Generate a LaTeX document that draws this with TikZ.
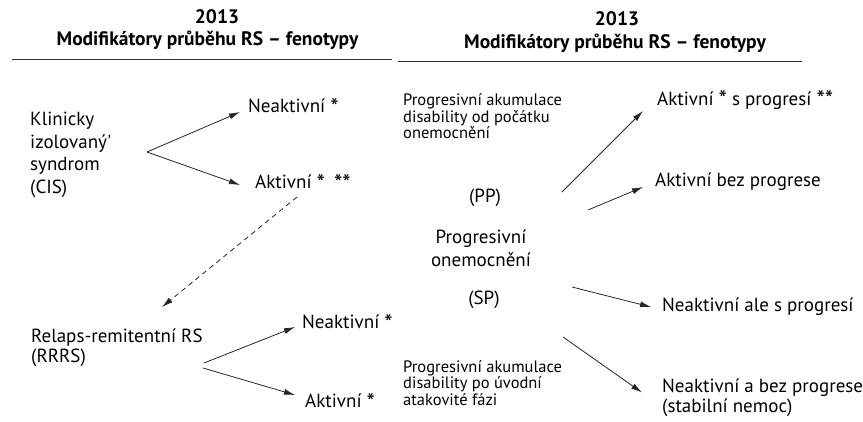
\documentclass[tikz,border=0pt]{standalone}
\usepackage{graphicx}
\usepackage{fontspec}
\setmainfont{PT Sans}
\usetikzlibrary{arrows.meta}
\newcommand\stx{\raisebox{-2.5pt}{\scalebox{1.25}{*}}}
\begin{document}
\begin{tikzpicture}[x=1pt,y=-1pt,
  lbl/.style={font=\fontsize{19}{20}\selectfont, inner sep=0pt, anchor=west, align=left},
  small/.style={font=\fontsize{16.5}{16.5}\selectfont, inner sep=0pt, anchor=west, align=left},
  ttl/.style={font=\bfseries\fontsize{19.5}{22}\selectfont, inner sep=0pt, anchor=center},
  arr/.style={-{Latex[length=11pt,width=6pt]}, line width=0.8pt, draw=black!85},
  rulestyle/.style={line width=0.9pt, draw=black!80}]
\useasboundingbox (0,0) rectangle (863,421);

% titles
\node[ttl] (y1) at (217,17) {2013};
\node[ttl] (t1) at (207.5,40.5) {Modifikátory průběhu RS – fenotypy};
\node[ttl] (y2) at (617,19) {2013};
\node[ttl] (t2) at (615,43) {Modifikátory průběhu RS – fenotypy};
\coordinate (r1a) at (12,59);
\coordinate (r1b) at (392,59);
\coordinate (r2a) at (398,61);
\coordinate (r2b) at (802,61);
\draw[rulestyle] (r1a) -- (r1b);
\draw[rulestyle] (r2a) -- (r2b);

% left block
\node[lbl, font=\fontsize{19}{22.5}\selectfont] (cis) at (30,155) {Klinicky\\izolovaný\textquotesingle\\syndrom\\(CIS)};
\node[lbl] (n1) at (248,107) {Neaktivní \stx};
\node[lbl] (a1) at (255,183) {Aktivní \stx\hspace{9pt}\stx\stx};
\coordinate (cisO) at (147,152);
\draw[arr] (cisO) -- ([shift={(-8,5)}]n1.west);
\draw[arr] (cisO) -- ([shift={(-15,2)}]a1.west);

\node[lbl] (rr) at (31,347.5) {Relaps-remitentní RS\\(RRRS)};
\coordinate (dS) at (297,197);
\coordinate (dE) at (162,307);
\draw[arr, dash pattern=on 5pt off 4pt] (dS) -- (dE);

\node[lbl] (n2) at (302,323) {Neaktivní \stx};
\node[lbl] (a2) at (305,402) {Aktivní \stx};
\coordinate (rrO1) at (204,363);
\coordinate (rrO2) at (203,368);
\draw[arr] (rrO1) -- ([shift={(-7,4)}]n2.west);
\draw[arr] (rrO2) -- ([shift={(-10,-7)}]a2.west);

% right block
\node[small] (pp1) at (403,116.5) {Progresivní akumulace\\disability od počátku\\onemocnění};
\node[lbl, anchor=center] (pp) at (485,198) {(PP)};
\node[lbl, anchor=center, align=center, font=\fontsize{19}{23}\selectfont] (po) at (481,248.5) {Progresivní\\onemocnění};
\node[lbl, anchor=center] (sp) at (484,300) {(SP)};
\node[small] (sp1) at (403,383) {Progresivní akumulace\\disability po úvodní\\atakovité fázi};

\node[lbl] (o1) at (657,100) {Aktivní \stx{} s progresí \stx\stx};
\node[lbl] (o2) at (655,182) {Aktivní bez progrese};
\node[lbl] (o3) at (662,307) {Neaktivní ale s progresí};
\node[lbl] (o4) at (662,397.5) {Neaktivní a bez progrese\\(stabilní nemoc)};

\coordinate (s1) at (562,192);
\coordinate (s2) at (588,210);
\coordinate (s3) at (572,287);
\coordinate (s4) at (563,337);
\draw[arr] (s1) -- ([shift={(-14,11)}]o1.west);
\draw[arr] (s2) -- ([shift={(-12,5)}]o2.west);
\draw[arr] (s3) -- ([shift={(-11,0)}]o3.west);
\draw[arr] (s4) -- ([shift={(-20,-5)}]o4.west);
\end{tikzpicture}
\end{document}
